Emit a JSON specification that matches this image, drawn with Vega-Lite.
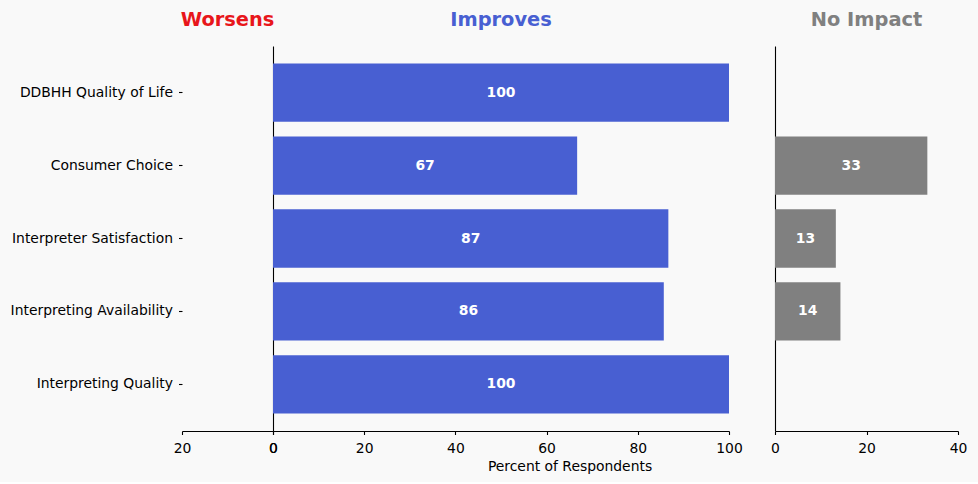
{
  "$schema": "https://vega.github.io/schema/vega-lite/v6.json",
  "background": "#f9f9f9",
  "padding": {"left": 10, "top": 9, "right": 12, "bottom": 8},
  "autosize": {"type": "pad"},
  "config": {
    "font": "DejaVu Sans",
    "view": {"stroke": null},
    "axis": {
      "labelFont": "DejaVu Sans",
      "labelFontSize": 13.9,
      "labelColor": "black",
      "domainColor": "black",
      "tickColor": "black",
      "grid": false,
      "tickSize": 3.5,
      "domainWidth": 1.1,
      "tickWidth": 1.1,
      "labelFlush": false,
      "labelOverlap": false,
      "titleFont": "DejaVu Sans",
      "titleFontWeight": "normal",
      "titleFontSize": 13.9,
      "titleColor": "black"
    },
    "title": {
      "font": "DejaVu Sans",
      "fontSize": 19.4,
      "fontWeight": "bold",
      "baseline": "alphabetic",
      "offset": 16,
      "anchor": "middle",
      "frame": "group"
    }
  },
  "data": {
    "values": [
      {"category": "DDBHH Quality of Life", "worsens": 0, "improves": 100, "noimpact": 0},
      {"category": "Consumer Choice", "worsens": 0, "improves": 66.7, "noimpact": 33.3},
      {"category": "Interpreter Satisfaction", "worsens": 0, "improves": 86.7, "noimpact": 13.3},
      {"category": "Interpreting Availability", "worsens": 0, "improves": 85.7, "noimpact": 14.3},
      {"category": "Interpreting Quality", "worsens": 0, "improves": 100, "noimpact": 0}
    ]
  },
  "spacing": 27,
  "hconcat": [
    {
      "spacing": 0,
      "bounds": "flush",
      "hconcat": [
        {
          "width": 91,
          "height": 385,
          "title": {"text": "Worsens", "color": "#e8161b"},
          "mark": {"type": "bar", "color": "#e8161b"},
          "encoding": {
            "y": {
              "field": "category", "type": "nominal", "sort": null,
              "scale": {"paddingInner": 0.2, "paddingOuter": 0.24},
              "axis": {"title": null, "domain": false, "labelPadding": 6, "labelLimit": 400}
            },
            "x": {
              "field": "worsens", "type": "quantitative",
              "scale": {"domain": [0, 20], "reverse": true, "nice": false},
              "axis": {"title": null, "values": [0, 20], "labelPadding": 6.5}
            }
          }
        },
        {
          "width": 456,
          "height": 385,
          "title": {"text": "Improves", "color": "#485fd2"},
          "encoding": {
            "y": {
              "field": "category", "type": "nominal", "sort": null,
              "scale": {"paddingInner": 0.2, "paddingOuter": 0.24},
              "axis": {"title": null, "labels": false, "ticks": false, "domain": true}
            }
          },
          "layer": [
            {
              "mark": {"type": "bar", "color": "#485fd2"},
              "encoding": {
                "x": {
                  "field": "improves", "type": "quantitative",
                  "scale": {"domain": [0, 100], "nice": false},
                  "axis": {"title": "Percent of Respondents", "values": [0, 20, 40, 60, 80, 100], "labelPadding": 6.5, "titleX": 296.5, "titlePadding": 4.5}
                }
              }
            },
            {
              "mark": {"type": "text", "color": "white", "fontWeight": "bold", "fontSize": 13.9},
              "encoding": {
                "x": {
                  "field": "improves", "type": "quantitative",
                  "scale": {"domain": [0, 100], "range": [0, 228], "nice": false},
                  "axis": null
                },
                "text": {"field": "improves", "type": "quantitative", "format": ".0f"}
              }
            }
          ],
          "resolve": {"scale": {"x": "independent"}}
        }
      ]
    },
    {
      "width": 183,
      "height": 385,
      "title": {"text": "No Impact", "color": "#808080"},
      "encoding": {
        "y": {
          "field": "category", "type": "nominal", "sort": null,
          "scale": {"paddingInner": 0.2, "paddingOuter": 0.24},
          "axis": {"title": null, "labels": false, "ticks": false, "domain": true}
        }
      },
      "layer": [
        {
          "mark": {"type": "bar", "color": "#808080"},
          "encoding": {
            "x": {
              "field": "noimpact", "type": "quantitative",
              "scale": {"domain": [0, 40], "nice": false},
              "axis": {"title": null, "values": [0, 20, 40], "labelPadding": 6.5}
            }
          }
        },
        {
          "transform": [{"filter": "datum.noimpact > 0"}],
          "mark": {"type": "text", "color": "white", "fontWeight": "bold", "fontSize": 13.9},
          "encoding": {
            "x": {
              "field": "noimpact", "type": "quantitative",
              "scale": {"domain": [0, 40], "range": [0, 91.5], "nice": false},
              "axis": null
            },
            "text": {"field": "noimpact", "type": "quantitative", "format": ".0f"}
          }
        }
      ],
      "resolve": {"scale": {"x": "independent"}}
    }
  ]
}
